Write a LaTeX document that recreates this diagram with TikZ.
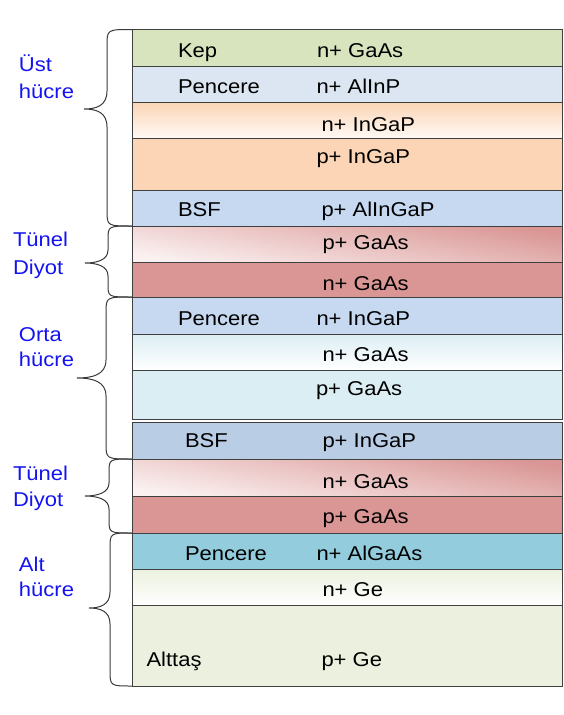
\documentclass[tikz,border=0pt]{standalone}
\usepackage{fontspec}
\setmainfont{Liberation Sans}[FakeStretch=1.1]
\definecolor{edge}{HTML}{404040}
\definecolor{bracecol}{HTML}{3A3A3A}
\definecolor{lblue}{HTML}{1414F0}
\definecolor{kepc}{HTML}{D7E4BD}
\definecolor{penc}{HTML}{DCE6F2}
\definecolor{orc}{HTML}{FBD5B5}
\definecolor{orw}{HTML}{FFF9F4}
\definecolor{bsfc}{HTML}{C6D9F1}
\definecolor{redc}{HTML}{D99694}
\definecolor{redw}{HTML}{FBF1F1}
\definecolor{aquac}{HTML}{DBEEF4}
\definecolor{bsfb}{HTML}{B9CDE5}
\definecolor{tealc}{HTML}{93CDDD}
\definecolor{gec}{HTML}{EBF1DE}
\begin{document}
\begin{tikzpicture}[x=1pt,y=-1pt,
  layer/.style={draw=edge, line width=0.8pt, rectangle, inner sep=0pt, outer sep=0pt, minimum width=430pt, anchor=north west},
  txt/.style={anchor=base west, inner sep=0pt, outer sep=0pt, font=\fontsize{20}{24}\selectfont, text=black},
  side/.style={txt, text=lblue},
  curly/.style={draw=bracecol, line width=1pt}]
\useasboundingbox (0,0) rectangle (563,715);
% layers
\node[layer, fill=kepc, minimum height=36.5pt] (kep) at (132,29.5) {};
\node[layer, fill=penc, minimum height=36pt] (pen1) at (132,66) {};
\node[layer, top color=orc, bottom color=orw, minimum height=36pt] (ningap) at (132,102) {};
\node[layer, fill=orc, minimum height=52pt] (pingap) at (132,138) {};
\node[layer, fill=bsfc, minimum height=36pt] (bsf1) at (132,190) {};
\node[layer, top color=redc, bottom color=redw, shading angle=-10, minimum height=36pt] (td1p) at (132,226) {};
\node[layer, fill=redc, minimum height=35pt] (td1n) at (132,262) {};
\node[layer, fill=bsfc, minimum height=37pt] (pen2) at (132,297) {};
\node[layer, top color=aquac, bottom color=white, minimum height=36pt] (ngaas) at (132,334) {};
\node[layer, fill=aquac, minimum height=49pt] (pgaas) at (132,370) {};
\node[layer, fill=bsfb, minimum height=37pt] (bsf2) at (132,422) {};
\node[layer, top color=redc, bottom color=redw, shading angle=-10, minimum height=37pt] (td2n) at (132,459) {};
\node[layer, fill=redc, minimum height=37pt] (td2p) at (132,496) {};
\node[layer, fill=tealc, minimum height=36pt] (pen3) at (132,533) {};
\node[layer, top color=gec, bottom color=white, minimum height=36pt] (nge) at (132,569) {};
\node[layer, fill=gec, minimum height=81pt] (pge) at (132,605) {};
% layer texts
\node[txt] (tkep) at (178,57) {Kep};
\node[txt] (tkepm) at (317,57) {n+ GaAs};
\node[txt] (tpen1) at (178,93) {Pencere};
\node[txt] (tpen1m) at (316.5,93) {n+ AlInP};
\node[txt] (tningap) at (321.5,131) {n+ InGaP};
\node[txt] (tpingap) at (316.5,163) {p+ InGaP};
\node[txt] (tbsf1) at (178,216) {BSF};
\node[txt] (tbsf1m) at (321.5,216) {p+ AlInGaP};
\node[txt] (ttd1p) at (322.5,249) {p+ GaAs};
\node[txt] (ttd1n) at (322.5,290) {n+ GaAs};
\node[txt] (tpen2) at (178,325) {Pencere};
\node[txt] (tpen2m) at (316.5,325) {n+ InGaP};
\node[txt] (tngaas) at (322.5,361.5) {n+ GaAs};
\node[txt] (tpgaas) at (316,395) {p+ GaAs};
\node[txt] (tbsf2) at (185,447.5) {BSF};
\node[txt] (tbsf2m) at (322.5,447.5) {p+ InGaP};
\node[txt] (ttd2n) at (322.5,488) {n+ GaAs};
\node[txt] (ttd2p) at (322.5,523) {p+ GaAs};
\node[txt] (tpen3) at (185,560) {Pencere};
\node[txt] (tpen3m) at (316.5,560) {n+ AlGaAs};
\node[txt] (tnge) at (322.5,596.5) {n+ Ge};
\node[txt] (talt) at (146.5,666) {Alttaş};
\node[txt] (tpge) at (321.5,666) {p+ Ge};
% side labels
\node[side] (ust1) at (19,71.5) {Üst};
\node[side] (ust2) at (19,98) {hücre};
\node[side] (tun1a) at (13,246) {Tünel};
\node[side] (tun1b) at (13,274) {Diyot};
\node[side] (orta1) at (19,341) {Orta};
\node[side] (orta2) at (19,366.5) {hücre};
\node[side] (tun2a) at (13,480.5) {Tünel};
\node[side] (tun2b) at (13,506) {Diyot};
\node[side] (alt1) at (19,571) {Alt};
\node[side] (alt2) at (19,596) {hücre};
% braces
\draw[curly] (kep.north west) .. controls (107,29.5) .. (107,46) -- (107,91)
  .. controls (107,106) and (96,109) .. (84,109) .. controls (96,109) and (107,112) .. (107,127) -- (107,210)
  .. controls (107,226) .. (bsf1.south west);
\draw[curly] (td1p.north west) .. controls (108,226) .. (108,240) -- (108,250)
  .. controls (108,260) and (97,263) .. (85,263) .. controls (97,263) and (108,266) .. (108,276) -- (108,284)
  .. controls (108,297) .. (td1n.south west);
\draw[curly] (pen2.north west) .. controls (106,297) .. (106,313) -- (106,360)
  .. controls (106,375) and (92,378) .. (77,378) .. controls (92,378) and (106,381) .. (106,396) -- (106,443)
  .. controls (106,459) .. (bsf2.south west);
\draw[curly] (td2n.north west) .. controls (109,459) .. (109,473) -- (109,483)
  .. controls (109,493) and (97,496) .. (85,496) .. controls (97,496) and (109,499) .. (109,509) -- (109,519)
  .. controls (109,533) .. (td2p.south west);
\draw[curly] (pen3.north west) .. controls (110,533) .. (110,549) -- (110,592)
  .. controls (110,605) and (100,608) .. (89,608) .. controls (100,608) and (110,611) .. (110,624) -- (110,670)
  .. controls (110,686) .. (pge.south west);
\end{tikzpicture}
\end{document}
